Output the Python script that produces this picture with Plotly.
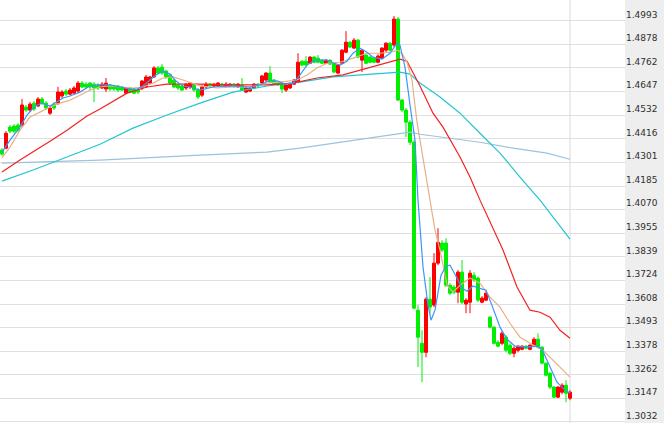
import plotly.graph_objects as go

# ---- candle data (index = bar number) ----
bar_index = list(range(143))

open_ = [1.4361, 1.4370, 1.4473, 1.4478, 1.4483, 1.4483, 1.4571, 1.4556, 1.4590, 1.4576,
         1.4610, 1.4590, 1.4541, 1.4585, 1.4590, 1.4625, 1.4649, 1.4634, 1.4639, 1.4649,
         1.4688, 1.4683, 1.4688, 1.4683, 1.4679, 1.4664, 1.4659, 1.4679, 1.4674, 1.4674,
         1.4669, 1.4639, 1.4664, 1.4659, 1.4654, 1.4664, 1.4669, 1.4688, 1.4718, 1.4762,
         1.4766, 1.4747, 1.4728, 1.4703, 1.4679, 1.4674, 1.4664, 1.4669, 1.4679, 1.4654,
         1.4629, 1.4669, 1.4683, 1.4674, 1.4674, 1.4683, 1.4674, 1.4674, 1.4683, 1.4669,
         1.4679, 1.4644, 1.4649, 1.4664, 1.4683, 1.4688, 1.4703, 1.4737, 1.4703, 1.4693,
         1.4683, 1.4654, 1.4664, 1.4683, 1.4693, 1.4795, 1.4795, 1.4785, 1.4815, 1.4810,
         1.4800, 1.4785, 1.4800, 1.4785, 1.4737, 1.4785, 1.4839, 1.4888, 1.4859, 1.4898,
         1.4800, 1.4825, 1.4815, 1.4810, 1.4790, 1.4810, 1.4849, 1.4883, 1.4874, 1.5001,
         1.4605, 1.4556, 1.4497, 1.4399, 1.3578, 1.3416, 1.3372, 1.3632, 1.3603, 1.3808,
         1.3906, 1.3906, 1.3700, 1.3691, 1.3666, 1.3764, 1.3608, 1.3617, 1.3749, 1.3735,
         1.3617, 1.3627, 1.3544, 1.3495, 1.3421, 1.3416, 1.3446, 1.3407, 1.3367, 1.3382,
         1.3387, 1.3402, 1.3387, 1.3407, 1.3436, 1.3397, 1.3319, 1.3270, 1.3202, 1.3153,
         1.3177, 1.3211, 1.3148]

close = [1.4341, 1.4443, 1.4453, 1.4453, 1.4458, 1.4581, 1.4556, 1.4585, 1.4561, 1.4610,
         1.4590, 1.4566, 1.4566, 1.4566, 1.4644, 1.4644, 1.4634, 1.4654, 1.4664, 1.4688,
         1.4669, 1.4669, 1.4669, 1.4664, 1.4664, 1.4683, 1.4688, 1.4659, 1.4659, 1.4654,
         1.4654, 1.4664, 1.4644, 1.4639, 1.4644, 1.4698, 1.4718, 1.4718, 1.4762, 1.4737,
         1.4737, 1.4718, 1.4688, 1.4669, 1.4664, 1.4654, 1.4683, 1.4688, 1.4654, 1.4620,
         1.4669, 1.4683, 1.4674, 1.4683, 1.4688, 1.4674, 1.4683, 1.4683, 1.4674, 1.4683,
         1.4654, 1.4664, 1.4664, 1.4683, 1.4674, 1.4723, 1.4737, 1.4693, 1.4683, 1.4679,
         1.4659, 1.4679, 1.4683, 1.4703, 1.4790, 1.4776, 1.4776, 1.4815, 1.4790, 1.4790,
         1.4785, 1.4800, 1.4781, 1.4742, 1.4776, 1.4849, 1.4888, 1.4864, 1.4898, 1.4815,
         1.4849, 1.4785, 1.4790, 1.4790, 1.4820, 1.4859, 1.4883, 1.4849, 1.5001, 1.4605,
         1.4556, 1.4497, 1.4399, 1.3588, 1.3446, 1.3372, 1.3632, 1.3593, 1.3808, 1.3910,
         1.3872, 1.3700, 1.3661, 1.3666, 1.3764, 1.3617, 1.3627, 1.3759, 1.3725, 1.3627,
         1.3637, 1.3661, 1.3495, 1.3416, 1.3402, 1.3465, 1.3382, 1.3367, 1.3392, 1.3402,
         1.3402, 1.3392, 1.3407, 1.3436, 1.3397, 1.3319, 1.3260, 1.3202, 1.3153, 1.3202,
         1.3211, 1.3172, 1.3177]

high = [1.4370, 1.4453, 1.4483, 1.4487, 1.4492, 1.4610, 1.4581, 1.4595, 1.4600, 1.4620,
        1.4620, 1.4600, 1.4576, 1.4595, 1.4669, 1.4654, 1.4659, 1.4664, 1.4674, 1.4698,
        1.4698, 1.4693, 1.4693, 1.4693, 1.4688, 1.4693, 1.4713, 1.4683, 1.4679, 1.4679,
        1.4674, 1.4669, 1.4669, 1.4664, 1.4659, 1.4703, 1.4728, 1.4723, 1.4771, 1.4771,
        1.4781, 1.4752, 1.4732, 1.4708, 1.4683, 1.4679, 1.4688, 1.4693, 1.4683, 1.4664,
        1.4679, 1.4693, 1.4688, 1.4688, 1.4693, 1.4688, 1.4693, 1.4688, 1.4688, 1.4688,
        1.4713, 1.4669, 1.4669, 1.4688, 1.4688, 1.4728, 1.4742, 1.4771, 1.4708, 1.4698,
        1.4688, 1.4683, 1.4688, 1.4708, 1.4834, 1.4800, 1.4820, 1.4820, 1.4820, 1.4825,
        1.4805, 1.4805, 1.4805, 1.4790, 1.4781, 1.4854, 1.4942, 1.4893, 1.4908, 1.4903,
        1.4854, 1.4829, 1.4820, 1.4815, 1.4829, 1.4864, 1.4888, 1.4888, 1.5016, 1.5011,
        1.4610, 1.4566, 1.4507, 1.4409, 1.3603, 1.3480, 1.3642, 1.3740, 1.3857, 1.3979,
        1.3920, 1.3930, 1.3710, 1.3700, 1.3774, 1.3823, 1.3637, 1.3774, 1.3764, 1.3744,
        1.3647, 1.3671, 1.3549, 1.3500, 1.3431, 1.3475, 1.3456, 1.3416, 1.3402, 1.3407,
        1.3407, 1.3407, 1.3411, 1.3446, 1.3465, 1.3402, 1.3324, 1.3275, 1.3207, 1.3207,
        1.3221, 1.3236, 1.3187]

low = [1.4332, 1.4365, 1.4443, 1.4443, 1.4448, 1.4473, 1.4546, 1.4546, 1.4551, 1.4571,
       1.4581, 1.4556, 1.4532, 1.4556, 1.4581, 1.4615, 1.4625, 1.4629, 1.4634, 1.4639,
       1.4664, 1.4659, 1.4654, 1.4595, 1.4654, 1.4659, 1.4644, 1.4649, 1.4649, 1.4644,
       1.4649, 1.4634, 1.4639, 1.4634, 1.4634, 1.4654, 1.4664, 1.4683, 1.4713, 1.4732,
       1.4728, 1.4708, 1.4679, 1.4664, 1.4654, 1.4649, 1.4654, 1.4659, 1.4644, 1.4610,
       1.4620, 1.4664, 1.4669, 1.4669, 1.4669, 1.4669, 1.4669, 1.4669, 1.4664, 1.4664,
       1.4649, 1.4639, 1.4644, 1.4659, 1.4664, 1.4683, 1.4693, 1.4688, 1.4679, 1.4674,
       1.4639, 1.4644, 1.4659, 1.4679, 1.4688, 1.4771, 1.4771, 1.4781, 1.4785, 1.4785,
       1.4781, 1.4781, 1.4776, 1.4737, 1.4732, 1.4781, 1.4834, 1.4859, 1.4854, 1.4810,
       1.4742, 1.4781, 1.4785, 1.4785, 1.4785, 1.4805, 1.4839, 1.4844, 1.4864, 1.4600,
       1.4546, 1.4424, 1.4385, 1.3583, 1.3300, 1.3226, 1.3348, 1.3563, 1.3593, 1.3798,
       1.3862, 1.3691, 1.3651, 1.3656, 1.3612, 1.3608, 1.3563, 1.3563, 1.3715, 1.3617,
       1.3612, 1.3622, 1.3490, 1.3411, 1.3397, 1.3407, 1.3372, 1.3358, 1.3348, 1.3372,
       1.3382, 1.3387, 1.3382, 1.3397, 1.3392, 1.3314, 1.3255, 1.3192, 1.3148, 1.3148,
       1.3167, 1.3128, 1.3138]

# ---- moving-average lines (bar position, price) ----
ma5_idx = [0, 2, 4.5, 6.25, 8.25, 10, 12, 13.25, 15.25, 17, 19.5, 21.5, 23.75, 27, 29.5, 32,
           33.75, 35.25, 37, 38.5, 40.25, 42, 43.5, 45.25, 47, 49.5, 52.75, 57.75, 62, 65, 67,
           69, 70.75, 72.75, 74.5, 76.25, 78.25, 81.25, 83, 84.5, 86.25, 87.75, 89.5, 91.25,
           92.75, 95, 97, 98.75, 99.5, 100.75, 102, 103.25, 104, 105.25, 106.5, 107.25, 108.25,
           109.75, 111, 112, 113.5, 115, 116.25, 117.75, 119.25, 121, 122.75, 124.5, 126.25,
           128.25, 131.25, 133.75, 135, 137, 138.75, 140.25, 142]
ma5_val = [1.4351, 1.4409, 1.4473, 1.4532, 1.4576, 1.4590, 1.4576, 1.4590, 1.4615, 1.4625,
           1.4644, 1.4669, 1.4679, 1.4679, 1.4669, 1.4659, 1.4659, 1.4674, 1.4703, 1.4728,
           1.4747, 1.4732, 1.4698, 1.4674, 1.4669, 1.4654, 1.4669, 1.4674, 1.4669, 1.4683,
           1.4703, 1.4698, 1.4683, 1.4688, 1.4728, 1.4776, 1.4800, 1.4800, 1.4785, 1.4776,
           1.4795, 1.4834, 1.4859, 1.4839, 1.4815, 1.4805, 1.4834, 1.4883, 1.4874, 1.4766,
           1.4581, 1.4409, 1.4116, 1.3789, 1.3603, 1.3529, 1.3578, 1.3749, 1.3793, 1.3798,
           1.3744, 1.3686, 1.3671, 1.3696, 1.3686, 1.3676, 1.3588, 1.3495, 1.3436, 1.3402,
           1.3397, 1.3402, 1.3387, 1.3300, 1.3226, 1.3197, 1.3172]

ma10_idx = [0, 2, 4.5, 7, 9.5, 12, 14.5, 17, 19.5, 22, 24.5, 27, 29.5, 32.75, 35.25, 37.75,
            40.25, 42.75, 45.25, 47.75, 49.5, 53.75, 57.75, 62, 66.25, 69.5, 73.75, 76.25,
            78.75, 81.25, 84.5, 87.75, 91.25, 94.5, 97, 99, 100.25, 101.25, 102.5, 103.75,
            105.25, 107, 108.25, 109.5, 111.25, 112.75, 114.5, 117, 119.5, 122, 124.5, 127,
            129.5, 132, 133.75, 135.25, 137.75, 140.25, 142]
ma10_val = [1.4322, 1.4375, 1.4458, 1.4522, 1.4546, 1.4571, 1.4590, 1.4605, 1.4629, 1.4654,
            1.4669, 1.4674, 1.4669, 1.4664, 1.4669, 1.4688, 1.4713, 1.4718, 1.4703, 1.4688,
            1.4674, 1.4664, 1.4669, 1.4669, 1.4688, 1.4693, 1.4703, 1.4728, 1.4762, 1.4785,
            1.4790, 1.4810, 1.4834, 1.4834, 1.4839, 1.4849, 1.4825, 1.4790, 1.4703, 1.4497,
            1.4312, 1.4116, 1.3969, 1.3872, 1.3700, 1.3666, 1.3700, 1.3735, 1.3710, 1.3642,
            1.3593, 1.3514, 1.3446, 1.3416, 1.3397, 1.3382, 1.3334, 1.3285, 1.3251]

ma20_idx = [0, 4.5, 12, 16.25, 21.25, 24.5, 31.25, 36.25, 41.25, 46.25, 49.5, 57.75, 66.25,
            72.75, 78.75, 85.25, 91.25, 96.25, 99.5, 101.25, 102.75, 104.5, 107.75, 110.25,
            114.5, 117, 119.5, 122, 125.25, 128.75, 132, 134.5, 137, 139.5, 142]
ma20_val = [1.4253, 1.4312, 1.4404, 1.4458, 1.4527, 1.4561, 1.4639, 1.4669, 1.4683, 1.4683,
            1.4683, 1.4679, 1.4679, 1.4688, 1.4713, 1.4728, 1.4762, 1.4790, 1.4805, 1.4795,
            1.4742, 1.4674, 1.4541, 1.4473, 1.4327, 1.4229, 1.4116, 1.4008, 1.3872, 1.3691,
            1.3578, 1.3568, 1.3544, 1.3480, 1.3441]

ma60_idx = [0, 7.75, 16.25, 24.5, 32.75, 41.25, 49.5, 57.75, 66.25, 74.5, 82.75, 91.25, 99.5,
            102, 104.5, 109.5, 114.5, 119.5, 124.5, 129.5, 134.5, 142]
ma60_val = [1.4209, 1.4263, 1.4327, 1.4389, 1.4468, 1.4532, 1.4590, 1.4644, 1.4674, 1.4693,
            1.4718, 1.4732, 1.4742, 1.4732, 1.4688, 1.4620, 1.4541, 1.4443, 1.4346, 1.4229,
            1.4116, 1.3925]

ma120_idx = [0, 24.5, 49.5, 66.25, 74.5, 82.75, 91.25, 99.5, 102, 104.5, 111.25, 119.5,
             127.75, 136.25, 142]
ma120_val = [1.4297, 1.4312, 1.4336, 1.4351, 1.4370, 1.4394, 1.4419, 1.4443, 1.4448, 1.4438,
             1.4419, 1.4399, 1.4370, 1.4346, 1.4316]

# ---- price axis ticks ----
tick_values = [1.4993, 1.4878, 1.4762, 1.4647, 1.4532, 1.4416, 1.4301, 1.4185, 1.4070,
               1.3955, 1.3839, 1.3724, 1.3608, 1.3493, 1.3378, 1.3262, 1.3147, 1.3032]
tick_labels = ["1.4993", "1.4878", "1.4762", "1.4647", "1.4532", "1.4416", "1.4301", "1.4185",
               "1.4070", "1.3955", "1.3839", "1.3724", "1.3608", "1.3493", "1.3378", "1.3262",
               "1.3147", "1.3032"]

UP = "#ff0000"
DOWN = "#00ee00"

fig = go.Figure()

lines = [
    (ma120_idx, ma120_val, "#9cc3dc"),
    (ma60_idx, ma60_val, "#22c6d0"),
    (ma20_idx, ma20_val, "#f22222"),
    (ma10_idx, ma10_val, "#e8b088"),
    (ma5_idx, ma5_val, "#3a96f8"),
]

fig.add_trace(go.Candlestick(
    x=bar_index, open=open_, high=high, low=low, close=close,
    increasing=dict(line=dict(color=UP, width=1), fillcolor=UP),
    decreasing=dict(line=dict(color=DOWN, width=1), fillcolor=DOWN),
    whiskerwidth=0, hoverinfo="skip", showlegend=False,
))

for xs, ys, col in lines:
    fig.add_trace(go.Scatter(x=xs, y=ys, mode="lines",
                             line=dict(color=col, width=1.2),
                             hoverinfo="skip", showlegend=False))

plot_w = 625
fig.update_layout(
    width=668, height=437,
    margin=dict(l=0, r=43, t=0, b=14),
    paper_bgcolor="white", plot_bgcolor="white",
    showlegend=False,
    boxgap=0.25, boxgroupgap=0,
    xaxis=dict(range=[-0.5, 155.75], showgrid=False, zeroline=False,
               showticklabels=False, ticks="", rangeslider=dict(visible=False),
               showline=False, fixedrange=True),
    yaxis=dict(range=[1.30266, 1.50942], side="right",
               tickmode="array", tickvals=tick_values, ticktext=tick_labels,
               showgrid=True, gridcolor="#dfdfdf", gridwidth=1,
               zeroline=False, showline=False, ticks="",
               ticklabelposition="outside top",
               tickfont=dict(family="DejaVu Sans", size=9, color="#333333"),
               fixedrange=True),
    shapes=[
        dict(type="rect", xref="paper", yref="paper", x0=1.0, x1=1 + 39 / plot_w,
             y0=0, y1=1, fillcolor="rgba(0,0,0,0.065)", line=dict(width=0), layer="above"),
        dict(type="line", xref="x", yref="paper", x0=142, x1=142, y0=0, y1=1,
             line=dict(color="#d9d9d9", width=1), layer="below"),
    ],
)

fig.write_html("out.html", config={"displayModeBar": False, "staticPlot": True},
               post_script="document.body.style.margin='0';document.body.style.overflow='hidden';")
